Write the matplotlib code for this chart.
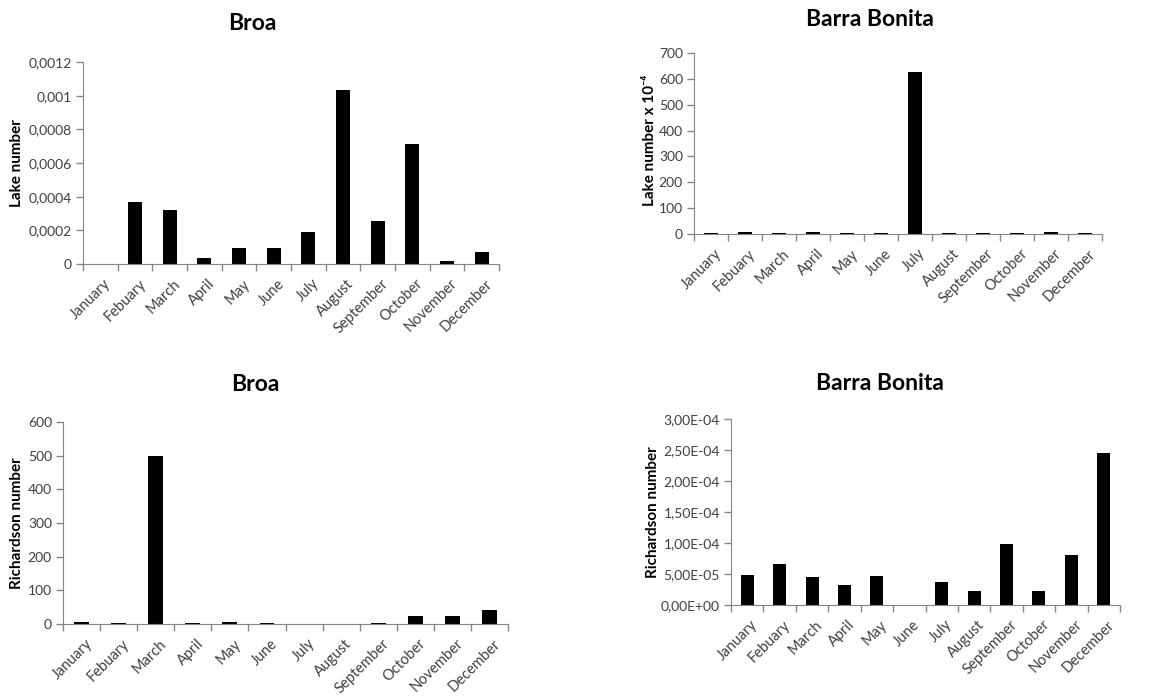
import matplotlib
matplotlib.use('Agg')
import matplotlib.pyplot as plt
import numpy as np

plt.rcParams['font.family'] = ['Lato', 'DejaVu Sans']

months = ['January', 'Febuary', 'March', 'April', 'May', 'June', 'July',
          'August', 'September', 'October', 'November', 'December']

# Lake number, Broa
lake_broa = [0, 0.000371, 0.000318, 0.0000375, 0.0000967, 0.0000967,
             0.000191, 0.001032, 0.000253, 0.000712, 0.00002, 0.000073]
# Lake number x 10^-4, Barra Bonita
lake_bb = [3, 7, 3, 7, 3, 3, 626.5, 3, 3, 3, 7, 3]
# Richardson number, Broa
rich_broa = [6, 3, 500, 3, 6, 3, 0, 0, 3, 24, 24, 41.6]
# Richardson number, Barra Bonita
rich_bb = [4.84e-5, 6.67e-5, 4.5e-5, 3.28e-5, 4.68e-5, 0, 3.76e-5,
           2.2e-5, 9.9e-5, 2.2e-5, 8.0e-5, 2.457e-4]

lake_broa_ticks = [0, 0.0002, 0.0004, 0.0006, 0.0008, 0.001, 0.0012]
lake_broa_labels = ['0', '0,0002', '0,0004', '0,0006', '0,0008', '0,001', '0,0012']
lake_bb_ticks = [0, 100, 200, 300, 400, 500, 600, 700]
rich_broa_ticks = [0, 100, 200, 300, 400, 500, 600]
rich_bb_ticks = [0, 5e-5, 1e-4, 1.5e-4, 2e-4, 2.5e-4, 3e-4]
rich_bb_labels = ['0,00E+00', '5,00E-05', '1,00E-04', '1,50E-04',
                  '2,00E-04', '2,50E-04', '3,00E-04']

W, H = 1174, 696
fig = plt.figure(figsize=(W / 100, H / 100), dpi=100)
grey = '#868686'
txt = '#404040'


def panel(box, vals, yticks, ylabels, title, title_xy, ylab, ylab_xy):
    l, r, t, b = box
    ax = fig.add_axes([l / W, 1 - b / H, (r - l) / W, (b - t) / H])
    x = np.arange(len(months))
    ax.bar(x, vals, width=0.4, color='black')
    ax.set_xlim(-0.5, len(months) - 0.5)
    ax.set_ylim(yticks[0], yticks[-1])
    ax.set_yticks(yticks)
    ax.set_yticklabels(ylabels, fontsize=10, color=txt)
    ax.set_xticks(np.arange(-0.5, len(months)), labels=[])
    ax.set_xticks(x + 0.1, minor=True)
    ax.set_xticklabels(months, minor=True, rotation=45, ha='right',
                       rotation_mode='anchor', fontsize=10.5, color=txt)
    ax.tick_params(axis='x', which='major', length=5, color=grey, width=1)
    ax.tick_params(axis='x', which='minor', length=0, pad=9)
    ax.tick_params(axis='y', length=5, color=grey, width=1, pad=3)
    for s in ['top', 'right']:
        ax.spines[s].set_visible(False)
    for s in ['left', 'bottom']:
        ax.spines[s].set_color(grey)
    fig.text(title_xy[0] / W, 1 - title_xy[1] / H, title, ha='center',
             va='center', fontsize=16.5, fontweight='bold')
    fig.text(ylab_xy[0] / W, 1 - ylab_xy[1] / H, ylab, ha='center',
             va='center', rotation=90, fontsize=11, fontweight='bold')
    return ax


panel((83, 499, 62, 264), lake_broa, lake_broa_ticks, lake_broa_labels,
      'Broa', (252, 24), 'Lake number', (17, 163))
panel((694, 1102, 53, 234), lake_bb, lake_bb_ticks,
      [str(v) for v in lake_bb_ticks],
      'Barra Bonita', (870, 20), 'Lake number x 10\u207b\u2074', (650, 140))
panel((63, 508, 422, 624), rich_broa, rich_broa_ticks,
      [str(v) for v in rich_broa_ticks],
      'Broa', (255, 385), 'Richardson number', (17, 523))
panel((731, 1120, 419, 605), rich_bb, rich_bb_ticks, rich_bb_labels,
      'Barra Bonita', (880, 383), 'Richardson number', (653, 512))

fig.savefig('out.png', dpi=100)
